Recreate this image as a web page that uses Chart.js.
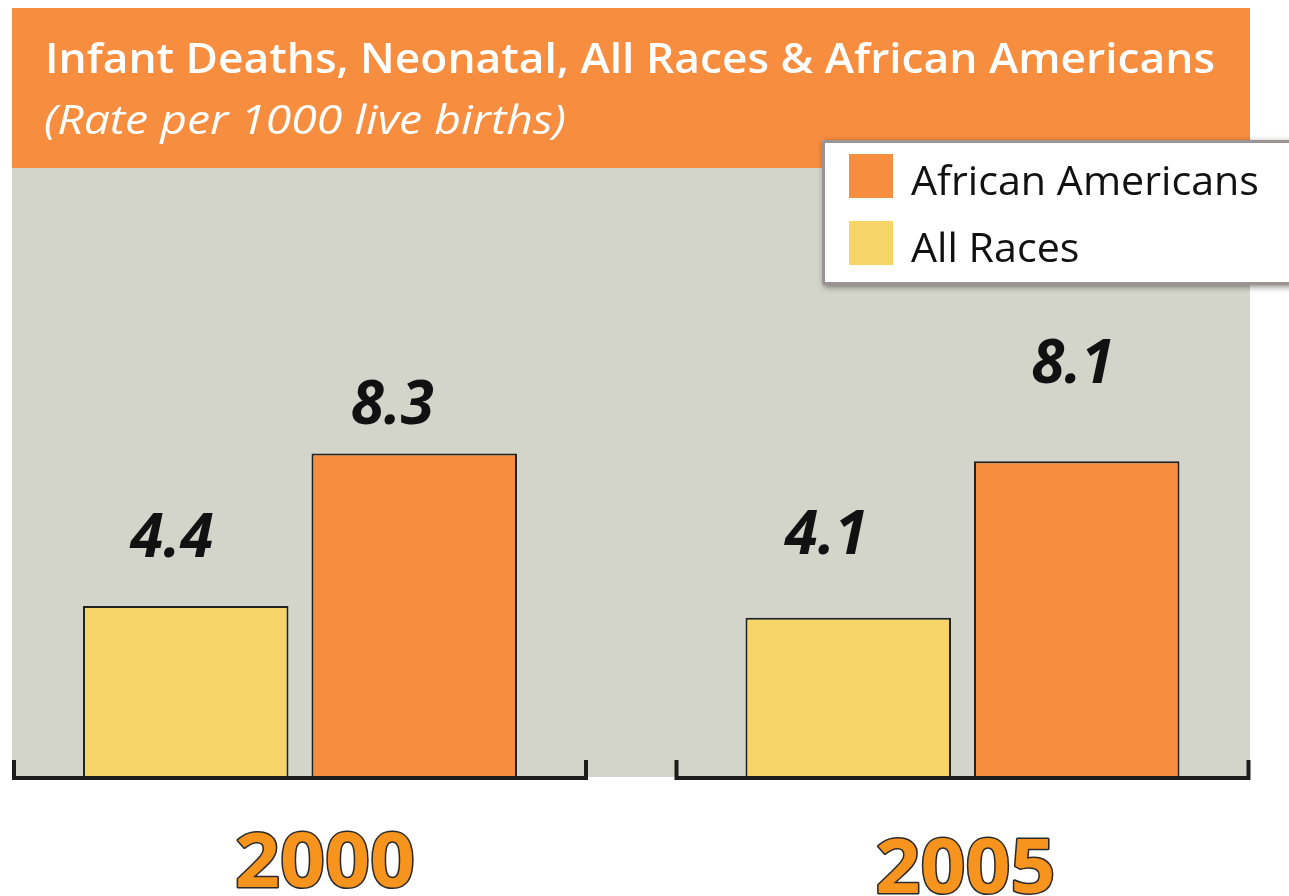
<!DOCTYPE html>
<html>
<head>
<meta charset="utf-8">
<title>Infant Deaths, Neonatal</title>
<script src="https://cdn.jsdelivr.net/npm/chart.js@4.4.1/dist/chart.umd.min.js"></script>
<style>
  html, body { margin: 0; padding: 0; background: #fff; }
  canvas { display: block; }
</style>
</head>
<body>
<canvas id="neonatalChart" width="1289" height="896"></canvas>
<script>
// data
const years = ['2000', '2005'];
const allRaces = [4.4, 4.1];
const africanAmericans = [8.3, 8.1];
const seriesNames = ['All Races', 'African Americans'];
const chartTitle = 'Infant Deaths, Neonatal, All Races & African Americans';
const chartSubtitle = '(Rate per 1000 live births)';

const ORANGE = '#F68D3F';
const YELLOW = '#F7D468';
const PANEL = '#D3D4CA';
const FONT = '"Open Sans", "Noto Sans", sans-serif';

// draw text at a given font size, squeezed sideways to a given width
function fitText(ctx, text, x, y, style, size, width, stroke) {
  ctx.font = style + ' ' + size + 'px ' + FONT;
  const sx = width / ctx.measureText(text).width;
  ctx.save();
  ctx.translate(x, y);
  ctx.scale(sx, 1);
  if (stroke) ctx.strokeText(text, 0, 0);
  ctx.fillText(text, 0, 0);
  ctx.restore();
}

// header band, grey panel, title
const backdrop = {
  id: 'backdrop',
  beforeDraw(chart) {
    const ctx = chart.ctx;
    ctx.save();
    ctx.fillStyle = PANEL;
    ctx.fillRect(12, 168, 1238, 609);
    ctx.fillStyle = ORANGE;
    ctx.fillRect(12, 8, 1238, 160);

    ctx.fillStyle = '#fff';
    ctx.textAlign = 'left';
    ctx.textBaseline = 'alphabetic';
    fitText(ctx, chartTitle, 45, 73, '600', 41, 1170);
    fitText(ctx, chartSubtitle, 44, 134, 'italic 400', 40, 522);
    ctx.restore();
  }
};

// axis brackets, value labels, year labels, legend box
const labelOffsets = [[[-14, 49], [-22, 64]], [[-22, 29], [-4, 78]]];
const yearOffsets = [[25, 887], [3, 893]];

const overlay = {
  id: 'overlay',
  afterDatasetsDraw(chart) {
    const ctx = chart.ctx;
    const x = chart.scales.x;
    const y = chart.scales.y;
    const base = y.getPixelForValue(0);
    ctx.save();

    // bracket under each group
    ctx.strokeStyle = '#1c1c1c';
    ctx.lineWidth = 4;
    ctx.lineJoin = 'miter';
    years.forEach((yr, i) => {
      const cx = x.getPixelForValue(i);
      ctx.beginPath();
      ctx.moveTo(cx - 286, base - 18);
      ctx.lineTo(cx - 286, base);
      ctx.lineTo(cx + 286, base);
      ctx.lineTo(cx + 286, base - 18);
      ctx.stroke();
    });

    // values above bars
    ctx.fillStyle = '#111';
    ctx.textAlign = 'center';
    ctx.textBaseline = 'alphabetic';
    ctx.font = 'italic 700 60px ' + FONT;
    chart.data.datasets.forEach((ds, d) => {
      chart.getDatasetMeta(d).data.forEach((bar, i) => {
        const off = labelOffsets[d][i];
        ctx.fillText(ds.data[i].toFixed(1), bar.x + off[0], bar.y - off[1]);
      });
    });

    // year labels, orange with dark outline
    ctx.textAlign = 'left';
    ctx.lineWidth = 3;
    ctx.lineJoin = 'round';
    ctx.strokeStyle = '#2a2a2a';
    ctx.fillStyle = '#F7941D';
    chart.data.labels.forEach((lab, i) => {
      const px = x.getPixelForValue(i) + yearOffsets[i][0];
      fitText(ctx, lab, px - 90, yearOffsets[i][1], '700', 76, 180, true);
    });

    // legend box
    ctx.shadowColor = 'rgba(0,0,0,0.45)';
    ctx.shadowBlur = 6;
    ctx.shadowOffsetX = 2;
    ctx.shadowOffsetY = 2;
    ctx.fillStyle = '#fff';
    ctx.fillRect(822, 140, 480, 145);
    ctx.shadowColor = 'transparent';
    ctx.strokeStyle = '#9c9494';
    ctx.lineWidth = 3;
    ctx.strokeRect(823.5, 141.5, 480, 142);

    const entries = chart.data.datasets.slice().reverse();
    ctx.font = '400 41px ' + FONT;
    const squeeze = 348 / ctx.measureText(entries[0].label).width;
    entries.forEach((ds, k) => {
      const top = 154 + k * 67;
      ctx.fillStyle = ds.backgroundColor;
      ctx.fillRect(849, top, 44, 44);
      ctx.fillStyle = '#111';
      ctx.font = '400 41px ' + FONT;
      const w = ctx.measureText(ds.label).width * squeeze;
      fitText(ctx, ds.label, 911, top + 41, '400', 41, w);
    });
    ctx.restore();
  }
};

new Chart(document.getElementById('neonatalChart'), {
  type: 'bar',
  data: {
    labels: years,
    datasets: [{
      label: seriesNames[0],
      data: allRaces,
      backgroundColor: YELLOW,
      borderColor: '#222',
      borderWidth: 2,
      borderSkipped: false,
      clip: false
    }, {
      label: seriesNames[1],
      data: africanAmericans,
      backgroundColor: ORANGE,
      borderColor: '#222',
      borderWidth: 2,
      borderSkipped: false,
      clip: false
    }]
  },
  options: {
    responsive: false,
    animation: false,
    devicePixelRatio: 1,
    categoryPercentage: 0.6898,
    barPercentage: 0.8993,
    layout: { padding: { left: 300, right: 326.5, top: 387, bottom: 118 } },
    scales: {
      x: { display: false, offset: false, grid: { offset: false } },
      y: { display: false, min: 0, max: 10 }
    },
    plugins: {
      legend: { display: false },
      tooltip: { enabled: false }
    }
  },
  plugins: [backdrop, overlay]
});
</script>
</body>
</html>
